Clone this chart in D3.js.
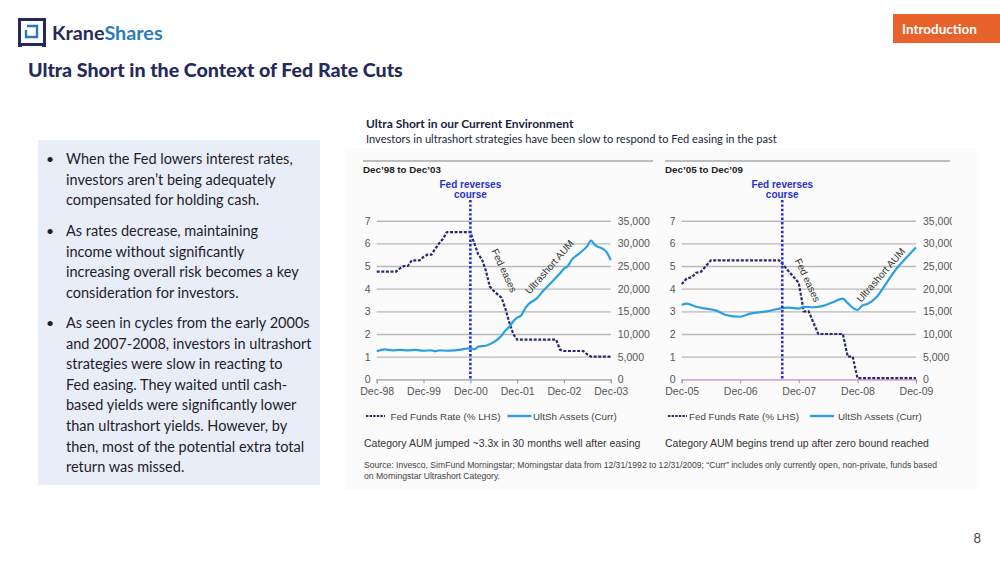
<!DOCTYPE html>
<html>
<head>
<meta charset="UTF-8" />
<title>Ultra Short in the Context of Fed Rate Cuts</title>
<script src="https://d3js.org/d3.v7.min.js"></script>
<style>
  body { margin: 0; background: #fff; }
  svg { display: block; }
  .slide { font-family: Lato, "Noto Sans", sans-serif; }
  .chart text { font-family: "Liberation Sans", Arial, sans-serif; }
</style>
</head>
<body>
<script>
// ---- data ----
// monthly Fed funds rate (%), Dec-98 .. Dec-03
const fedRates1 = [4.75, 4.75, 4.75, 4.75, 4.75, 4.75, 4.9, 5.0, 5.0, 5.25, 5.25, 5.25, 5.4,
  5.5, 5.5, 5.75, 6.0, 6.2, 6.5, 6.5, 6.5, 6.5, 6.5, 6.5, 6.5,
  6.0, 5.5, 5.3, 4.8, 4.1, 3.9, 3.75, 3.6, 3.1, 2.5, 2.0, 1.75,
  1.75, 1.75, 1.75, 1.75, 1.75, 1.75, 1.75, 1.75, 1.75, 1.75, 1.3, 1.25,
  1.25, 1.25, 1.25, 1.25, 1.25, 1.1, 1.0, 1.0, 1.0, 1.0, 1.0, 1.0];
// monthly Fed funds rate (%), Dec-05 .. Dec-09
const fedRates2 = [4.2, 4.45, 4.5, 4.7, 4.75, 5.0, 5.25, 5.25, 5.25, 5.25, 5.25, 5.25, 5.25,
  5.25, 5.25, 5.25, 5.25, 5.25, 5.25, 5.25, 5.25, 5.0, 4.75, 4.5, 4.25,
  3.0, 3.0, 2.5, 2.0, 2.0, 2.0, 2.0, 2.0, 2.0, 1.0, 1.0, 0.05,
  0.05, 0.05, 0.05, 0.05, 0.05, 0.05, 0.05, 0.05, 0.05, 0.05, 0.05, 0.05];

// ultrashort category assets ($m)
const aumDates1 = ["1998-12", "1999-02", "1999-04", "1999-06", "1999-08", "1999-10", "1999-12",
  "2000-02", "2000-03", "2000-04", "2000-06", "2000-08", "2000-10", "2000-12", "2001-01",
  "2001-02", "2001-04", "2001-06", "2001-08", "2001-09", "2001-10", "2001-11", "2001-12",
  "2002-01", "2002-02", "2002-03", "2002-05", "2002-07", "2002-09", "2002-11", "2002-12",
  "2003-01", "2003-02", "2003-04", "2003-06", "2003-07", "2003-08", "2003-10", "2003-11", "2003-12"];
const aumValues1 = [6200, 6600, 6400, 6500, 6400, 6500, 6300,
  6400, 6200, 6400, 6300, 6400, 6600, 6900, 6600,
  7200, 7400, 8200, 9600, 10800, 11600, 12800, 13600,
  14100, 15600, 16600, 17800, 19800, 21600, 23400, 24400,
  25000, 26400, 27800, 29400, 30600, 29600, 28800, 28000, 26300];
const aumDates2 = ["2005-12", "2006-01", "2006-03", "2006-05", "2006-07", "2006-09", "2006-12",
  "2007-02", "2007-04", "2007-06", "2007-08", "2007-10", "2007-12", "2008-01", "2008-03",
  "2008-05", "2008-07", "2008-09", "2008-10", "2008-12", "2009-01", "2009-02", "2009-04",
  "2009-06", "2009-08", "2009-10", "2009-12"];
const aumValues2 = [16400, 16700, 16000, 15600, 15200, 14200, 13800,
  14500, 14800, 15100, 15600, 15800, 15600, 16000, 15900,
  16200, 17000, 17800, 16800, 15300, 16300, 16600, 18200,
  21300, 24400, 26800, 29100];

const rateTicks = [0, 1, 2, 3, 4, 5, 6, 7];
const aumTicks = [0, 5000, 10000, 15000, 20000, 25000, 30000, 35000];
const reverseDates = ["2000-12-01", "2007-08-20"];
const panelTitles = ["Dec\u201998 to Dec\u201903", "Dec\u201905 to Dec\u201909"];
const captions = ["Category AUM jumped ~3.3x in 30 months well after easing",
  "Category AUM begins trend up after zero bound reached"];
// annotation anchors: [date, rate]
const easesAt = [["2001-08-22", 4.8], ["2008-01-25", 4.38]];
const aumLabelAt = [["2002-08-10", 4.96], ["2009-04-25", 4.6]];

const bullets = [
  ["When the Fed lowers interest rates,", "investors aren\u2019t being adequately", "compensated for holding cash."],
  ["As rates decrease, maintaining", "income without significantly", "increasing overall risk becomes a key", "consideration for investors."],
  ["As seen in cycles from the early 2000s", "and 2007-2008, investors in ultrashort", "strategies were slow in reacting to",
   "Fed easing. They waited until cash-", "based yields were significantly lower", "than ultrashort yields. However, by",
   "then, most of the potential extra total", "return was missed."]
];

const NAVY = "#252a5a", FED = "#262b70", AUM = "#2b9fe2", REV = "#2a2fcf";
const parseM = d3.timeParse("%Y-%m"), parseD = d3.timeParse("%Y-%m-%d");

const svg = d3.select("body").append("svg")
  .attr("width", 1000).attr("height", 563);

// ---- slide frame ----
const slide = svg.append("g").attr("class", "slide");

// logo
slide.append("rect").attr("x", 19.5).attr("y", 19.5).attr("width", 25).attr("height", 25)
  .attr("fill", "none").attr("stroke", NAVY).attr("stroke-width", 3);
slide.append("rect").attr("x", 18).attr("y", 43).attr("width", 4).attr("height", 4).attr("fill", NAVY);
slide.append("rect").attr("x", 42).attr("y", 43).attr("width", 4).attr("height", 4).attr("fill", NAVY);
slide.append("path").attr("d", "M27,26 H37 V37 H26 V30").attr("fill", "none")
  .attr("stroke", "#2a7ab8").attr("stroke-width", 2.4);
const brand = slide.append("text").attr("x", 52).attr("y", 40)
  .attr("font-size", 19.8).attr("font-weight", 700);
brand.append("tspan").attr("fill", NAVY).text("Krane");
brand.append("tspan").attr("fill", "#2b7bbd").text("Shares");

slide.append("text").attr("x", 28).attr("y", 77)
  .attr("font-size", 19.6).attr("font-weight", 900).attr("fill", NAVY)
  .text("Ultra Short in the Context of Fed Rate Cuts");

slide.append("rect").attr("x", 893).attr("y", 14).attr("width", 107).attr("height", 29).attr("fill", "#e8622c");
slide.append("text").attr("x", 902).attr("y", 34).attr("font-size", 13.5).attr("font-weight", 700)
  .attr("fill", "#fff").text("Introduction");

slide.append("text").attr("x", 981).attr("y", 543).attr("text-anchor", "end")
  .attr("font-size", 13).attr("fill", "#444").text("8");

// bullet box
slide.append("rect").attr("x", 38).attr("y", 140).attr("width", 282).attr("height", 345).attr("fill", "#e9edf8");
const bulletTop = [164, 236, 328];
bullets.forEach((lines, i) => {
  slide.append("text").attr("x", 46).attr("y", bulletTop[i]).attr("font-size", 14).attr("fill", "#1d1d2b").text("\u2022");
  lines.forEach((ln, j) => {
    slide.append("text").attr("x", 66).attr("y", bulletTop[i] + j * 20.6)
      .attr("font-size", 14.5).attr("fill", "#1d1d2b").text(ln);
  });
});

// ---- chart image ----
const chart = svg.append("g").attr("class", "chart");
chart.append("rect").attr("x", 345).attr("y", 148).attr("width", 632).attr("height", 342).attr("fill", "#fbfbfb");
chart.append("text").attr("x", 366).attr("y", 128).attr("font-size", 12).attr("font-weight", 700)
  .attr("fill", "#1a1f3d").style("font-family", "Lato, sans-serif").text("Ultra Short in our Current Environment");
chart.append("text").attr("x", 366).attr("y", 143).attr("font-size", 11.1)
  .attr("fill", "#1a1f3d").style("font-family", "Lato, sans-serif")
  .text("Investors in ultrashort strategies have been slow to respond to Fed easing in the past");

svg.append("defs").append("clipPath").attr("id", "imgclip")
  .append("rect").attr("x", 345).attr("y", 140).attr("width", 607).attr("height", 360);

const panels = [
  { x0: 376.7, x1: 610.7, start: "1998-12", end: "2003-12", rule: [363, 653],
    fed: fedRates1, aumDates: aumDates1, aumValues: aumValues1, base: "#b8b8b8",
    leg: [366, 390.5, 507.5, 533], cap: 364 },
  { x0: 681.7, x1: 916, start: "2005-12", end: "2009-12", rule: [665, 950],
    fed: fedRates2, aumDates: aumDates2, aumValues: aumValues2, base: "#d9a8e6",
    leg: [668, 689, 810, 838], cap: 665 }
];

panels.forEach((p, i) => {
  const g = chart.append("g").attr("clip-path", "url(#imgclip)");
  const t0 = parseM(p.start), t1 = parseM(p.end);
  const x = d3.scaleTime().domain([t0, t1]).range([p.x0, p.x1]);
  const yL = d3.scaleLinear().domain([0, 7]).range([379.3, 220.7]);
  const yR = d3.scaleLinear().domain([0, 35000]).range([379.3, 220.7]);

  g.append("line").attr("x1", p.rule[0]).attr("x2", p.rule[1]).attr("y1", 161).attr("y2", 161)
    .attr("stroke", "#a8a8a8").attr("stroke-width", 1.6);
  g.append("text").attr("x", p.rule[0]).attr("y", 173).attr("font-size", 9.8).attr("font-weight", 700)
    .attr("fill", "#222").text(panelTitles[i]);

  // gridlines + left axis
  const ax = g.append("g").attr("transform", `translate(${p.x0},0)`)
    .call(d3.axisLeft(yL).tickValues(rateTicks).tickSize(-(p.x1 - p.x0)).tickPadding(6).tickFormat(d3.format("d")));
  ax.select(".domain").remove();
  ax.selectAll(".tick line").attr("stroke", "#b8b8b8").attr("stroke-width", 1.4);
  ax.selectAll(".tick text").attr("font-size", 10.5).attr("fill", "#555").style("font-family", "Liberation Sans, Arial, sans-serif");

  const axR = g.append("g").attr("transform", `translate(${p.x1},0)`)
    .call(d3.axisRight(yR).tickValues(aumTicks).tickSize(0).tickPadding(7).tickFormat(d3.format(",")));
  axR.select(".domain").remove();
  axR.selectAll(".tick text").attr("font-size", 10.5).attr("fill", "#555").style("font-family", "Liberation Sans, Arial, sans-serif");

  // one tick per December
  const years = d3.timeYear.range(d3.timeYear.floor(t0), d3.timeYear.offset(t1, 1))
    .map(d => d3.timeMonth.offset(d, 11))
    .filter(d => d <= t1);
  const axB = g.append("g").attr("transform", "translate(0,379.3)")
    .call(d3.axisBottom(x).tickValues(years).tickSize(4).tickPadding(4).tickFormat(d3.timeFormat("%b-%y")));
  axB.select(".domain").attr("stroke", p.base).attr("stroke-width", 1.4);
  axB.selectAll(".tick line").attr("stroke", "#999");
  axB.selectAll(".tick text").attr("font-size", 10.5).attr("fill", "#555").style("font-family", "Liberation Sans, Arial, sans-serif");

  // series
  const fedLine = d3.line().x((d, k) => x(d3.timeMonth.offset(t0, k))).y(d => yL(d));
  g.append("path").attr("d", fedLine(p.fed)).attr("fill", "none").attr("stroke", FED)
    .attr("stroke-width", 2.2).attr("stroke-dasharray", "3,1.6");

  const aumLine = d3.line().curve(d3.curveMonotoneX)
    .x((d, k) => x(parseM(p.aumDates[k]))).y(d => yR(d));
  g.append("path").attr("d", aumLine(p.aumValues)).attr("fill", "none").attr("stroke", AUM)
    .attr("stroke-width", 2.2);

  // Fed reverses course
  const rx = x(parseD(reverseDates[i]));
  g.append("line").attr("x1", rx).attr("x2", rx).attr("y1", 200).attr("y2", 379.3)
    .attr("stroke", REV).attr("stroke-width", 2.6).attr("stroke-dasharray", "2.4,2");
  ["Fed reverses", "course"].forEach((s, k) => {
    g.append("text").attr("x", rx).attr("y", 187.5 + k * 10).attr("text-anchor", "middle")
      .attr("font-size", 10).attr("font-weight", 700).attr("fill", REV).text(s);
  });

  // line annotations
  const ea = easesAt[i], la = aumLabelAt[i];
  const ex = x(parseD(ea[0])), ey = yL(ea[1]);
  g.append("text").attr("transform", `translate(${ex},${ey}) rotate(65)`)
    .attr("text-anchor", "middle").attr("dominant-baseline", "central")
    .attr("font-size", 10).attr("fill", "#333").text("Fed eases");
  const lx = x(parseD(la[0])), ly = yL(la[1]);
  g.append("text").attr("transform", `translate(${lx},${ly}) rotate(-49)`)
    .attr("text-anchor", "middle").attr("dominant-baseline", "central")
    .attr("font-size", 10).attr("fill", "#333").text("Ultrashort AUM");

  // legend
  const ly0 = 416;
  g.append("line").attr("x1", p.leg[0]).attr("x2", p.leg[0] + 19).attr("y1", ly0).attr("y2", ly0)
    .attr("stroke", FED).attr("stroke-width", 2).attr("stroke-dasharray", "2.4,1.2");
  g.append("text").attr("x", p.leg[1]).attr("y", ly0 + 3.5).attr("font-size", 9.8)
    .attr("fill", "#444").text("Fed Funds Rate (% LHS)");
  g.append("line").attr("x1", p.leg[2]).attr("x2", p.leg[2] + 24).attr("y1", ly0).attr("y2", ly0)
    .attr("stroke", AUM).attr("stroke-width", 2.4);
  g.append("text").attr("x", p.leg[3]).attr("y", ly0 + 3.5).attr("font-size", 9.8)
    .attr("fill", "#444").text("UltSh Assets (Curr)");

  g.append("text").attr("x", p.cap).attr("y", 447).attr("font-size", 10.5)
    .attr("fill", "#333").text(captions[i]);
});

chart.append("text").attr("x", 364).attr("y", 468).attr("font-size", 8.4).attr("fill", "#444")
  .attr("textLength", 573).attr("lengthAdjust", "spacingAndGlyphs")
  .text("Source: Invesco, SimFund Morningstar; Morningstar data from 12/31/1992 to 12/31/2009;  \u201cCurr\u201d includes only currently open, non-private, funds based");
chart.append("text").attr("x", 364).attr("y", 479).attr("font-size", 8.4).attr("fill", "#444")
  .attr("textLength", 136).attr("lengthAdjust", "spacingAndGlyphs")
  .text("on Morningstar Ultrashort Category.");
</script>
</body>
</html>
